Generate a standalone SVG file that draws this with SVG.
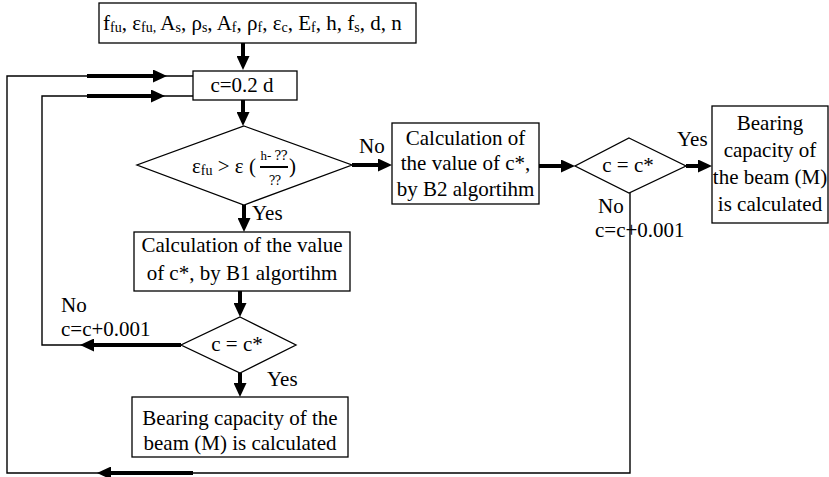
<svg xmlns="http://www.w3.org/2000/svg" width="829" height="477" viewBox="0 0 829 477">
<style>
.box{fill:#fff;stroke:#000;stroke-width:1.3}
text{font-family:'Liberation Serif','Times New Roman','DejaVu Serif',serif;font-size:21px;fill:#000}
.m{text-anchor:middle}
.s{font-size:14px}
.thin{fill:none;stroke:#000;stroke-width:1.4}
.thick{fill:none;stroke:#000;stroke-width:4;marker-end:url(#ah)}
</style>
<defs>
<marker id="ah" markerUnits="userSpaceOnUse" markerWidth="14" markerHeight="13" refX="0" refY="6.5" orient="auto">
<path d="M0,0 L14,6.5 L0,13 z" fill="#000"/>
</marker>
</defs>
<rect width="829" height="477" fill="#fff"/>

<g id="connectors">
<line class="thick" x1="243" y1="43" x2="243" y2="56"/>
<line class="thick" x1="243" y1="100" x2="243" y2="112"/>
<line class="thick" x1="244" y1="205" x2="244" y2="218"/>
<line class="thick" x1="240" y1="291" x2="240" y2="303"/>
<line class="thick" x1="240" y1="373" x2="240" y2="383"/>
<line class="thick" x1="352" y1="165" x2="378" y2="165"/>
<line class="thick" x1="539" y1="166" x2="561" y2="166"/>
<line class="thick" x1="686" y1="166" x2="698" y2="166"/>
<polyline class="thin" points="630,193 630,473 7,473 7,76 193,76"/>
<line class="thick" x1="193" y1="473" x2="111" y2="473"/>
<line class="thick" x1="87" y1="76" x2="153" y2="76"/>
<polyline class="thin" points="181,345 42,345 42,96 193,96"/>
<line class="thick" x1="181" y1="345" x2="94" y2="345"/>
<line class="thick" x1="87" y1="96" x2="151" y2="96"/>
</g>

<g id="inputs">
<rect class="box" x="99" y="3" width="317" height="40"/>
<text x="103" y="30">f<tspan class="s" dy="2">fu</tspan><tspan dy="-2">, ε</tspan><tspan class="s" dy="2">fu,</tspan><tspan dy="-2"> A</tspan><tspan class="s" dy="2">s</tspan><tspan dy="-2">, ρ</tspan><tspan class="s" dy="2">s</tspan><tspan dy="-2">, A</tspan><tspan class="s" dy="2">f</tspan><tspan dy="-2">, ρ</tspan><tspan class="s" dy="2">f</tspan><tspan dy="-2">, ε</tspan><tspan class="s" dy="2">c</tspan><tspan dy="-2">, E</tspan><tspan class="s" dy="2">f</tspan><tspan dy="-2">, h, f</tspan><tspan class="s" dy="2">s</tspan><tspan dy="-2">, d, n</tspan></text>
</g>

<g id="init">
<rect class="box" x="193" y="71" width="104" height="29"/>
<text class="m" x="242" y="92">c=0.2 d</text>
</g>

<g id="decision1">
<polygon class="box" points="244,126 352,165 244,205 137,165"/>
<text x="192" y="173">ε<tspan class="s" dy="2">fu</tspan><tspan dy="-2"> &gt; ε (</tspan></text>
<text class="m" x="274" y="160" style="font-size:13px">h- ⁇</text>
<line x1="260" y1="167" x2="288" y2="167" stroke="#000" stroke-width="2"/>
<text class="m" x="275" y="185" style="font-size:12px">⁇</text>
<text x="289" y="173">)</text>
</g>

<g id="b2">
<rect class="box" x="392" y="123" width="147" height="81"/>
<text class="m" x="465.5" y="145">Calculation of</text>
<text class="m" x="465.5" y="170">the value of c*,</text>
<text class="m" x="465.5" y="196">by B2 algortihm</text>
</g>

<g id="decision3">
<polygon class="box" points="629,138 686,166 629,193 575,166"/>
<text class="m" x="628" y="172">c = c*</text>
</g>

<g id="result-right">
<rect class="box" x="712" y="106" width="116" height="117"/>
<text class="m" x="770" y="130">Bearing</text>
<text class="m" x="770" y="157">capacity of</text>
<text class="m" x="770" y="184">the beam (M)</text>
<text class="m" x="770" y="211">is calculated</text>
</g>

<g id="b1">
<rect class="box" x="134" y="232" width="216" height="59"/>
<text class="m" x="242" y="252">Calculation of the value</text>
<text class="m" x="242" y="280">of c*, by B1 algortihm</text>
</g>

<g id="decision2">
<polygon class="box" points="240,317 296,345 240,373 181,345"/>
<text class="m" x="237" y="351">c = c*</text>
</g>

<g id="result-bottom">
<rect class="box" x="132" y="397" width="216" height="60"/>
<text class="m" x="240" y="425">Bearing capacity of the</text>
<text class="m" x="240" y="450">beam (M) is calculated</text>
</g>

<g id="labels">
<text x="359" y="153">No</text>
<text x="252" y="220">Yes</text>
<text x="61" y="312">No</text>
<text x="61" y="336">c=c+0.001</text>
<text x="267" y="386">Yes</text>
<text x="677" y="146">Yes</text>
<text x="598" y="213">No</text>
<text x="595" y="237">c=c+0.001</text>
</g>
</svg>
